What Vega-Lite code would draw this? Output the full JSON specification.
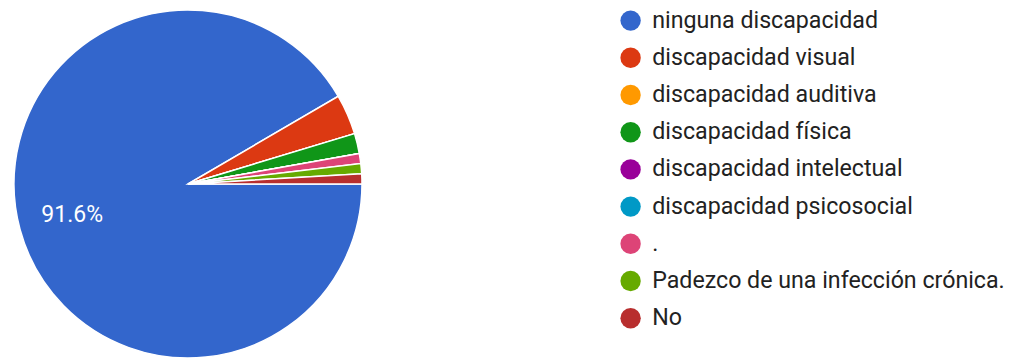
{
  "$schema": "https://vega.github.io/schema/vega-lite/v6.json",
  "width": 376,
  "height": 348,
  "padding": {"top": 10, "left": 0, "right": 642, "bottom": 0},
  "autosize": {"type": "none"},
  "background": "white",
  "config": {"view": {"stroke": null}, "font": "Roboto"},
  "data": {
    "values": [
      {"category": "ninguna discapacidad", "count": 98, "order": 1, "label": "91.6%"},
      {"category": "discapacidad visual", "count": 4, "order": 2, "label": ""},
      {"category": "discapacidad auditiva", "count": 0, "order": 3, "label": ""},
      {"category": "discapacidad física", "count": 2, "order": 4, "label": ""},
      {"category": "discapacidad intelectual", "count": 0, "order": 5, "label": ""},
      {"category": "discapacidad psicosocial", "count": 0, "order": 6, "label": ""},
      {"category": ".", "count": 1, "order": 7, "label": ""},
      {"category": "Padezco de una infección crónica.", "count": 1, "order": 8, "label": ""},
      {"category": "No", "count": 1, "order": 9, "label": ""}
    ]
  },
  "encoding": {
    "theta": {"field": "count", "type": "quantitative", "stack": true, "scale": {"range": [1.5707963, 7.8539816]}},
    "order": {"field": "order", "type": "quantitative"}
  },
  "layer": [
    {
      "mark": {"type": "arc", "outerRadius": 174, "stroke": "white", "strokeWidth": 1.5},
      "encoding": {
        "color": {
          "field": "category",
          "type": "nominal",
          "sort": ["ninguna discapacidad", "discapacidad visual", "discapacidad auditiva", "discapacidad física", "discapacidad intelectual", "discapacidad psicosocial", ".", "Padezco de una infección crónica.", "No"],
          "scale": {
            "domain": ["ninguna discapacidad", "discapacidad visual", "discapacidad auditiva", "discapacidad física", "discapacidad intelectual", "discapacidad psicosocial", ".", "Padezco de una infección crónica.", "No"],
            "range": ["#3366cc", "#dc3912", "#ff9900", "#109618", "#990099", "#0099c6", "#dd4477", "#66aa00", "#b82e2e"]
          },
          "legend": {
            "title": null,
            "orient": "none",
            "legendX": 619,
            "legendY": -1,
            "padding": 0,
            "symbolType": "circle",
            "symbolSize": 415,
            "symbolStrokeWidth": 0,
            "symbolOpacity": 1,
            "labelFont": "Roboto",
            "labelFontSize": 23.2,
            "labelColor": "#222222",
            "labelOffset": 10,
            "labelLimit": 400,
            "rowPadding": 13.2
          }
        }
      }
    },
    {
      "mark": {"type": "text", "radius": 120, "fontSize": 23, "font": "Roboto", "color": "white"},
      "encoding": {"text": {"field": "label"}}
    }
  ]
}
